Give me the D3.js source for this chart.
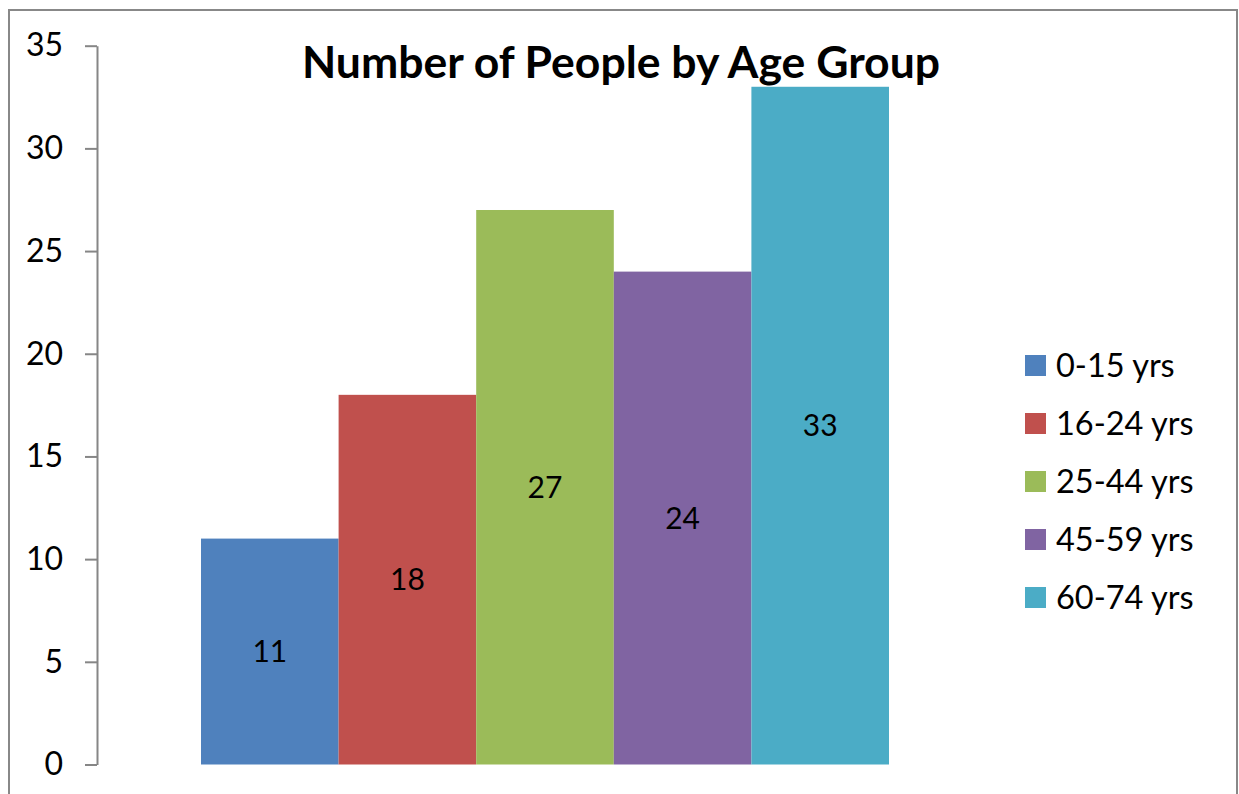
<!DOCTYPE html>
<html>
<head>
<meta charset="utf-8">
<script src="https://cdn.jsdelivr.net/npm/d3@7/dist/d3.min.js"></script>
<style>
  html, body { margin: 0; padding: 0; background: #fff; }
  svg { display: block; font-family: Lato, "Open Sans", sans-serif; }
</style>
</head>
<body>
<svg id="chart" width="1239" height="794"></svg>
<script>
const title = "Number of People by Age Group";
const seriesNames = ["0-15 yrs", "16-24 yrs", "25-44 yrs", "45-59 yrs", "60-74 yrs"];
const seriesValues = [11, 18, 27, 24, 33];
const seriesColors = ["#4F81BD", "#C0504D", "#9BBB59", "#8064A2", "#4BACC6"];
const yTicks = [0, 5, 10, 15, 20, 25, 30, 35];

const svg = d3.select("#chart");

// chart border
svg.append("rect")
  .attr("x", 9).attr("y", 10)
  .attr("width", 1228).attr("height", 800)
  .attr("fill", "#fff").attr("stroke", "#888").attr("stroke-width", 2);

const plot = { left: 97, right: 993, top: 45.7, bottom: 764.5 };

const y = d3.scaleLinear().domain([0, 35]).range([plot.bottom, plot.top]);
const x = d3.scaleBand().domain(seriesNames)
  .range([plot.left + 104, plot.right - 104]).padding(0);

// bars
svg.append("g").selectAll("rect").data(seriesValues).join("rect")
  .attr("x", (d, i) => x(seriesNames[i]))
  .attr("width", x.bandwidth())
  .attr("y", d => y(d))
  .attr("height", d => y(0) - y(d))
  .attr("fill", (d, i) => seriesColors[i]);

// data labels
svg.append("g").selectAll("text").data(seriesValues).join("text")
  .attr("x", (d, i) => x(seriesNames[i]) + x.bandwidth() / 2)
  .attr("y", d => y(d / 2))
  .attr("dy", "0.36em")
  .attr("text-anchor", "middle")
  .attr("font-size", 30)
  .attr("fill", "#000")
  .text(d => d);

// y axis
const axis = svg.append("g").attr("transform", `translate(${plot.left},0)`)
  .call(d3.axisLeft(y).tickValues(yTicks).tickSize(12).tickPadding(22).tickSizeOuter(0));
axis.select(".domain").attr("stroke", "#868686").attr("stroke-width", 2);
axis.selectAll(".tick line").attr("stroke", "#868686").attr("stroke-width", 2);
axis.selectAll(".tick text").attr("font-size", 32).attr("fill", "#000")
  .attr("font-family", "Lato, sans-serif");

// title
svg.append("text")
  .attr("x", 621).attr("y", 78)
  .attr("text-anchor", "middle")
  .attr("font-size", 44.5).attr("font-weight", "bold")
  .attr("fill", "#000")
  .text(title);

// legend
const legend = svg.append("g").selectAll("g").data(seriesNames).join("g")
  .attr("transform", (d, i) => `translate(1025, ${355 + i * 58})`);
legend.append("rect").attr("width", 21).attr("height", 21)
  .attr("fill", (d, i) => seriesColors[i]);
legend.append("text").attr("x", 31).attr("y", 10.5).attr("dy", "0.36em")
  .attr("font-size", 32.5).attr("fill", "#000").text(d => d);
</script>
</body>
</html>
